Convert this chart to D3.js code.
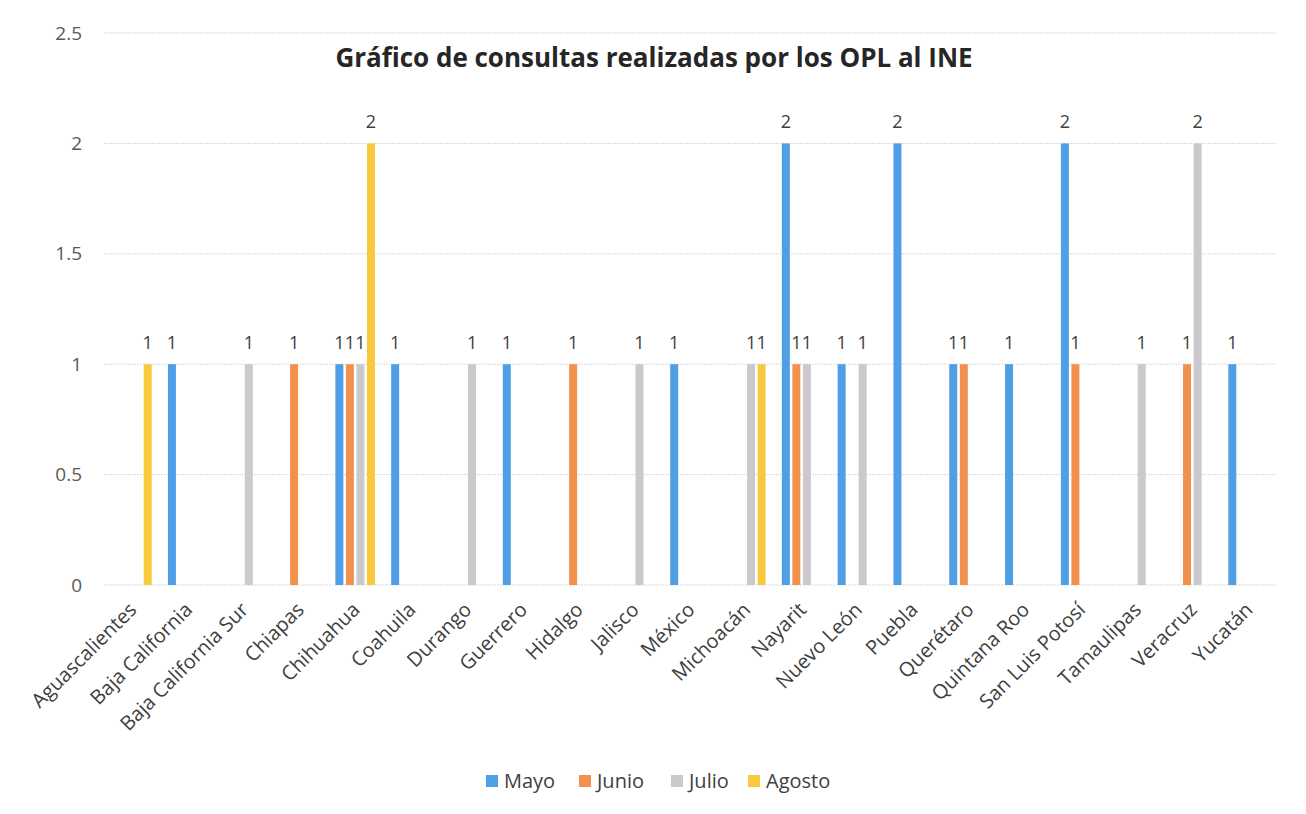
<!DOCTYPE html>
<html><head><meta charset="utf-8">
<script src="https://cdn.jsdelivr.net/npm/d3@7"></script>
<style>
html,body{margin:0;padding:0;background:#fff;}
svg{display:block;}
</style></head>
<body>
<svg id="chart" width="1306" height="814"></svg>
<script>
const categories = ["Aguascalientes","Baja California","Baja California Sur","Chiapas","Chihuahua","Coahuila","Durango","Guerrero","Hidalgo","Jalisco","México","Michoacán","Nayarit","Nuevo León","Puebla","Querétaro","Quintana Roo","San Luis Potosí","Tamaulipas","Veracruz","Yucatán"];
const seriesNames = ["Mayo","Junio","Julio","Agosto"];
const mayo   = [0,1,0,0,1,1,0,1,0,0,1,0,2,1,2,1,1,2,0,0,1];
const junio  = [0,0,0,1,1,0,0,0,1,0,0,0,1,0,0,1,0,1,0,1,0];
const julio  = [0,0,1,0,1,0,1,0,0,1,0,1,1,1,0,0,0,0,1,2,0];
const agosto = [1,0,0,0,2,0,0,0,0,0,0,1,0,0,0,0,0,0,0,0,0];
const yTicks = [0,0.5,1,1.5,2,2.5];
const colors = ["#4E9FE5","#F2914E","#C9C9CE","#F8C93C"];
const seriesValues = [mayo, junio, julio, agosto];
const title = "Gráfico de consultas realizadas por los OPL al INE";

const svg = d3.select("#chart");
const pL = 104, pR = 1276, pT = 33, pB = 585;

const x0 = d3.scaleBand().domain(categories).range([pL, pR]).padding(0);
const groupW = 40;
const x1 = d3.scaleBand().domain(seriesNames)
  .range([(x0.bandwidth()-groupW)/2, (x0.bandwidth()+groupW)/2]).paddingInner(0.2).paddingOuter(0);
const y = d3.scaleLinear().domain([0,2.5]).range([pB, pT]);
const color = d3.scaleOrdinal().domain(seriesNames).range(colors);

// gridlines
svg.append("g").selectAll("line").data(yTicks).join("line")
  .attr("x1", pL).attr("x2", pR)
  .attr("y1", d=>y(d)).attr("y2", d=>y(d))
  .attr("stroke", "#d9d9d9").attr("stroke-width", 1).attr("stroke-dasharray","2,1");

// y axis labels
const yAxis = d3.axisLeft(y).tickValues(yTicks).tickSize(0).tickPadding(0).tickFormat(d3.format("~g"));
const ya = svg.append("g").attr("transform", `translate(82,0)`).call(yAxis);
ya.select(".domain").remove();
ya.selectAll("text").attr("font-family","'Open Sans', sans-serif").attr("font-size",19).attr("fill","#595959");

// bars
const data = [];
categories.forEach((c,i)=>{
  seriesNames.forEach((s,j)=>{
    data.push({cat:c, series:s, value:seriesValues[j][i]});
  });
});
const barW = 8;
svg.append("g").selectAll("rect").data(data.filter(d=>d.value>0)).join("rect")
  .attr("x", d=>x0(d.cat)+x1(d.series)+(x1.bandwidth()-barW)/2)
  .attr("width", barW)
  .attr("y", d=>y(d.value))
  .attr("height", d=>y(0)-y(d.value))
  .attr("fill", d=>color(d.series));

// value labels
svg.append("g").selectAll("text").data(data.filter(d=>d.value>0)).join("text")
  .attr("x", d=>x0(d.cat)+x1(d.series)+x1.bandwidth()/2)
  .attr("y", d=>y(d.value)-15)
  .attr("text-anchor","middle")
  .attr("font-family","'Open Sans', sans-serif").attr("font-size",18)
  .attr("fill","#404040")
  .text(d=>d.value);

// x labels
const xAxis = d3.axisBottom(x0).tickSize(0).tickPadding(0);
const xa = svg.append("g").attr("transform", `translate(0,${pB})`).call(xAxis);
xa.select(".domain").remove();
xa.selectAll("text")
  .attr("font-family","'Open Sans', sans-serif").attr("font-size",20).attr("fill","#404040")
  .attr("text-anchor","end").attr("dy","0.35em")
  .attr("transform","translate(1,21) rotate(-45)");

// title
svg.append("text").attr("x",654).attr("y",67).attr("text-anchor","middle")
  .attr("font-family","'Open Sans', sans-serif").attr("font-weight","bold").attr("font-size",26)
  .attr("fill","#262626").text(title);

// legend
const legendX = [486, 579, 671, 748];
const lg = svg.append("g");
seriesNames.forEach((s,i)=>{
  lg.append("rect").attr("x",legendX[i]).attr("y",775).attr("width",12).attr("height",12).attr("fill",color(s));
  lg.append("text").attr("x",legendX[i]+18).attr("y",788)
    .attr("font-family","'Open Sans', sans-serif").attr("font-size",20).attr("fill","#404040").text(s);
});
</script>
</body></html>
